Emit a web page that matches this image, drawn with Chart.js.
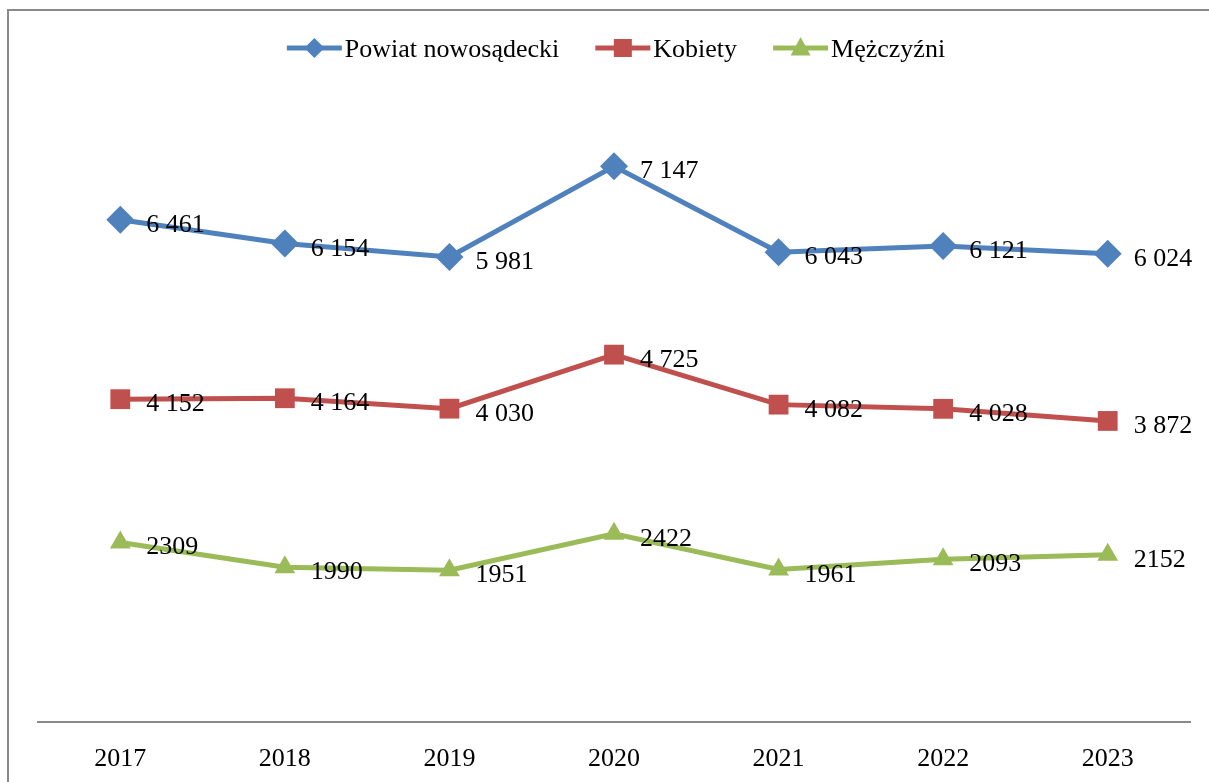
<!DOCTYPE html>
<html>
<head>
<meta charset="utf-8">
<script src="https://cdn.jsdelivr.net/npm/chart.js@4/dist/chart.umd.min.js"></script>
<style>
  html, body { margin: 0; padding: 0; background: #fff; }
  canvas { display: block; }
</style>
</head>
<body>
<canvas id="c" width="1209" height="782"></canvas>
<script>
// ---- data ----
const years = ['2017', '2018', '2019', '2020', '2021', '2022', '2023'];
const powiat = [6461, 6154, 5981, 7147, 6043, 6121, 6024];
const kobiety = [4152, 4164, 4030, 4725, 4082, 4028, 3872];
const mezczyzni = [2309, 1990, 1951, 2422, 1961, 2093, 2152];
const seriesNames = ['Powiat nowosądecki', 'Kobiety', 'Mężczyźni'];

const FONT = '"Liberation Serif", "Times New Roman", serif';
const BLUE = '#4F81BD', RED = '#C0504D', GREEN = '#9BBB59';

function fmt(v, group) {
  const s = String(v);
  return group ? s.replace(/\B(?=(\d{3})+(?!\d))/g, ' ') : s;
}

function drawMarker(ctx, style, x, y, size, color) {
  ctx.save();
  ctx.fillStyle = color;
  ctx.beginPath();
  if (style === 'rectRot') {
    ctx.moveTo(x, y - size); ctx.lineTo(x + size, y); ctx.lineTo(x, y + size); ctx.lineTo(x - size, y);
  } else if (style === 'rect') {
    ctx.rect(x - size, y - size, size * 2, size * 2);
  } else {
    ctx.moveTo(x, y - size * 1.1); ctx.lineTo(x + size, y + size * 0.75); ctx.lineTo(x - size, y + size * 0.75);
  }
  ctx.closePath();
  ctx.fill();
  ctx.restore();
}

const framePlugin = {
  id: 'frame',
  beforeDraw(chart) {
    const ctx = chart.ctx;
    ctx.save();
    ctx.fillStyle = '#fff';
    ctx.fillRect(0, 0, chart.width, chart.height);
    ctx.strokeStyle = '#8a8a8a';
    ctx.lineWidth = 2;
    ctx.beginPath();
    ctx.moveTo(8, chart.height + 2);
    ctx.lineTo(8, 10);
    ctx.lineTo(chart.width + 2, 10);
    ctx.stroke();
    ctx.restore();
  }
};

const legendPlugin = {
  id: 'customLegend',
  afterDraw(chart) {
    const ctx = chart.ctx;
    ctx.save();
    ctx.font = '26px ' + FONT;
    ctx.textBaseline = 'alphabetic';
    const lineLen = 55, textGap = 3, itemGap = 36, y = 48;
    const items = chart.data.datasets.map(ds => ({
      ds, w: ctx.measureText(ds.label).width
    }));
    let total = 0;
    items.forEach((it, i) => { total += lineLen + textGap + it.w + (i < items.length - 1 ? itemGap : 0); });
    let x = 616 - total / 2;
    items.forEach(it => {
      const c = it.ds.borderColor;
      ctx.strokeStyle = c;
      ctx.lineWidth = 5;
      ctx.beginPath();
      ctx.moveTo(x, y); ctx.lineTo(x + lineLen, y);
      ctx.stroke();
      const ms = it.ds.pointStyle === 'triangle' ? 10 : (it.ds.pointStyle === 'rect' ? 9 : 10);
      drawMarker(ctx, it.ds.pointStyle, x + lineLen / 2, y, ms, c);
      ctx.fillStyle = '#000';
      ctx.fillText(it.ds.label, x + lineLen + textGap, y + 9);
      x += lineLen + textGap + it.w + itemGap;
    });
    ctx.restore();
  }
};

const labelPlugin = {
  id: 'valueLabels',
  afterDatasetsDraw(chart) {
    const ctx = chart.ctx;
    ctx.save();
    ctx.font = '26px ' + FONT;
    ctx.fillStyle = '#000';
    ctx.textAlign = 'left';
    ctx.textBaseline = 'alphabetic';
    chart.data.datasets.forEach((ds, di) => {
      const meta = chart.getDatasetMeta(di);
      meta.data.forEach((pt, i) => {
        ctx.fillText(fmt(ds.data[i], ds.groupThousands), pt.x + 26, pt.y + 12);
      });
    });
    ctx.restore();
  }
};

new Chart(document.getElementById('c'), {
  type: 'line',
  data: {
    labels: years,
    datasets: [
      { label: seriesNames[0], data: powiat, borderColor: BLUE, backgroundColor: BLUE,
        pointStyle: 'rectRot', pointRadius: 14, pointHoverRadius: 14, pointBorderWidth: 0,
        borderWidth: 5, tension: 0, groupThousands: true },
      { label: seriesNames[1], data: kobiety, borderColor: RED, backgroundColor: RED,
        pointStyle: 'rect', pointRadius: 14, pointHoverRadius: 14, pointBorderWidth: 0,
        borderWidth: 5, tension: 0, groupThousands: true },
      { label: seriesNames[2], data: mezczyzni, borderColor: GREEN, backgroundColor: GREEN,
        pointStyle: 'triangle', pointRadius: 12, pointHoverRadius: 12, pointBorderWidth: 0,
        borderWidth: 5, tension: 0, groupThousands: false }
    ]
  },
  options: {
    responsive: false,
    animation: false,
    events: [],
    layout: { padding: { left: 38, right: 19, top: 100, bottom: 0 } },
    plugins: { legend: { display: false }, tooltip: { enabled: false } },
    scales: {
      x: {
        offset: true,
        grid: { display: false, drawTicks: false },
        border: { display: true, color: '#8a8a8a', width: 2 },
        ticks: { color: '#000', font: { family: FONT, size: 26 }, padding: 22, maxRotation: 0 },
        afterFit(scale) { scale.height = 60; }
      },
      y: {
        display: false,
        min: 0,
        max: 8000
      }
    }
  },
  plugins: [framePlugin, legendPlugin, labelPlugin]
});
</script>
</body>
</html>
